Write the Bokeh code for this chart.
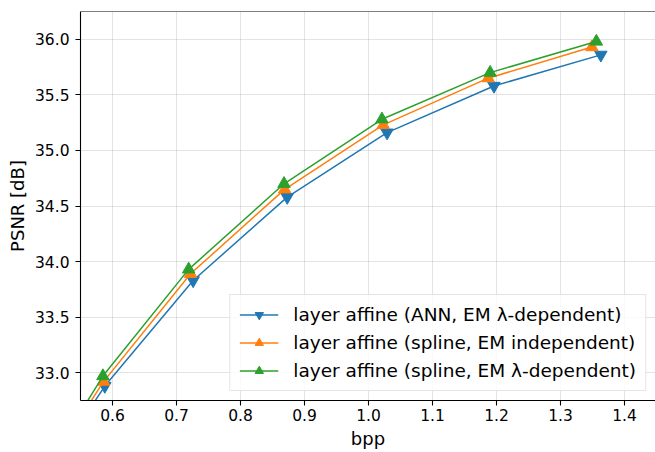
from bokeh.plotting import figure
from bokeh.models import FixedTicker, PrintfTickFormatter, Span, Range1d, Legend
from bokeh.embed import file_html
from bokeh.resources import INLINE

# data (bpp, PSNR)
bpp_ann = [0.47, 0.588, 0.726, 0.873, 1.029, 1.196, 1.363]
psnr_ann = [31.85, 32.88, 33.83, 34.58, 35.16, 35.58, 35.86]
bpp_spl_ind = [0.467, 0.586, 0.722, 0.869, 1.023, 1.187, 1.349]
psnr_spl_ind = [31.86, 32.92, 33.89, 34.65, 35.23, 35.65, 35.93]
bpp_spl_dep = [0.465, 0.585, 0.719, 0.868, 1.021, 1.190, 1.356]
psnr_spl_dep = [31.85, 32.97, 33.93, 34.70, 35.28, 35.70, 35.98]

labels = [
    "layer affine (ANN, EM λ-dependent)",
    "layer affine (spline, EM independent)",
    "layer affine (spline, EM λ-dependent)",
]
x_ticks = [0.6, 0.7, 0.8, 0.9, 1.0, 1.1, 1.2, 1.3, 1.4]
y_ticks = [33.0, 33.5, 34.0, 34.5, 35.0, 35.5, 36.0]

FONT = "DejaVu Sans"

p = figure(width=655, height=452, output_backend="svg", toolbar_location=None,
           x_range=Range1d(0.55, 1.4484), y_range=Range1d(32.75, 36.25),
           min_border_left=80, min_border_right=0, min_border_top=11, min_border_bottom=52)
p.outline_line_color = None
p.background_fill_color = "white"
p.border_fill_color = "white"

for ax in (p.xaxis[0], p.yaxis[0]):
    ax.axis_line_color = "black"
    ax.axis_line_width = 1.1
    ax.major_tick_line_color = "black"
    ax.major_tick_line_width = 1.1
    ax.major_tick_in = 0
    ax.major_tick_out = 5
    ax.minor_tick_line_color = None
    ax.major_label_text_font = FONT
    ax.major_label_text_font_size = "15.5px"
    ax.major_label_text_color = "black"
    ax.axis_label_text_font = FONT
    ax.axis_label_text_font_size = "18px"
    ax.axis_label_text_font_style = "normal"
    ax.axis_label_text_color = "black"
    ax.formatter = PrintfTickFormatter(format="%.1f")

p.xaxis[0].ticker = FixedTicker(ticks=x_ticks)
p.yaxis[0].ticker = FixedTicker(ticks=y_ticks)
p.xaxis[0].axis_label = "bpp"
p.yaxis[0].axis_label = "PSNR [dB]"
p.xaxis[0].major_label_standoff = 3
p.yaxis[0].major_label_standoff = 6
p.xaxis[0].axis_label_standoff = 4
p.yaxis[0].axis_label_standoff = 4

p.grid.grid_line_color = "#b0b0b0"
p.grid.grid_line_alpha = 0.35
p.grid.grid_line_width = 1

top = Span(location=36.25, dimension="width", line_color="black", line_width=1.2)
p.add_layout(top)

series = [
    (bpp_ann, psnr_ann, "#1f77b4", "inverted_triangle"),
    (bpp_spl_ind, psnr_spl_ind, "#ff7f0e", "triangle"),
    (bpp_spl_dep, psnr_spl_dep, "#2ca02c", "triangle"),
]
items = []
for (xs, ys, c, m), lab in zip(series, labels):
    r1 = p.line(xs, ys, line_color=c, line_width=1.5)
    r2 = p.scatter(xs, ys, marker=m, size=12.5, fill_color=c, line_color=c)
    items.append((lab, [r1, r2]))

legend = Legend(items=items, location="bottom_right")
legend.margin = 9
legend.padding = 9
legend.spacing = 7
legend.glyph_width = 39
legend.glyph_height = 21
legend.label_height = 21
legend.label_standoff = 15
legend.label_text_font = FONT
legend.label_text_font_size = "18.5px"
legend.label_text_color = "black"
legend.background_fill_color = "white"
legend.background_fill_alpha = 0.8
legend.border_line_color = "#cccccc"
legend.border_line_width = 1
p.add_layout(legend, "center")

open("out.html", "w").write(file_html(p, INLINE))
